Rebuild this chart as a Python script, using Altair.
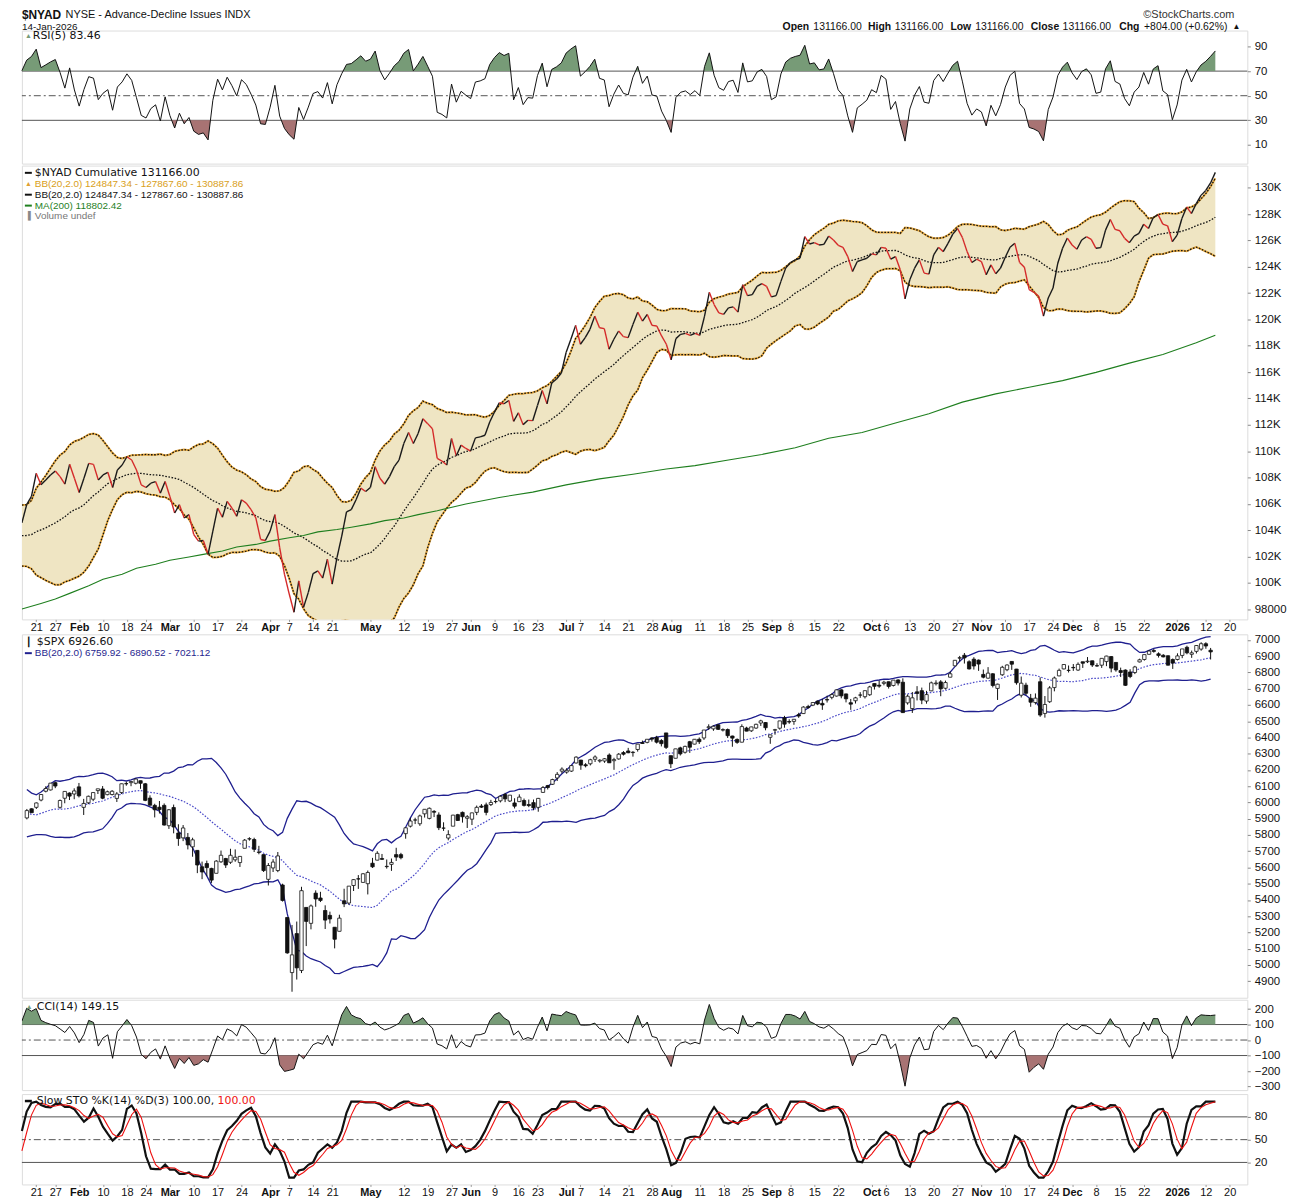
import altair as alt
import numpy as np
import pandas as pd

FONT = "Liberation Sans"
WIDE = "DejaVu Sans"

# ---------------- data ----------------
holidays = ["2025-01-20", "2025-02-17", "2025-04-18", "2025-05-26", "2025-06-19",
            "2025-07-04", "2025-09-01", "2025-11-27", "2025-12-25", "2026-01-01", "2026-01-19"]
all_days = [d for d in pd.bdate_range("2025-01-15", "2026-01-23")
            if d.strftime("%Y-%m-%d") not in holidays]


def day_index(s):
    return all_days.index(pd.Timestamp(s))


# NYAD closes of the 19 sessions before the first plotted day (warm-up for indicators)
nyad_prior = [105800, 105200, 103900, 104600, 104900, 104300, 104700, 103600, 102600, 102900,
              103600, 104000, 103100, 102200, 101900, 102500, 101500, 102300, 103600]

nyad = [104551, 105932, 106560, 108319, 107440, 107816, 108193, 108494, 108067, 107489,
        108998, 107942, 106862, 107942, 109073, 108998, 107816, 108193, 108394, 107239,
        108570, 108947, 109575, 109323, 108570, 107440, 107239, 107565, 107691, 106811,
        107691, 106560, 105305, 105932, 104927, 105179, 103672, 103169, 103219, 102164,
        103923, 105681, 104978, 106184, 105681, 105053, 106309, 106058, 105556, 104927,
        103295, 103219, 103923, 105179, 102667, 100657, 99150, 97768, 100155, 98145,
        99276, 100707, 100908, 100356, 101788, 99904, 101913, 103546, 105380, 105556,
        106309, 107188, 106937, 107239, 108821, 107942, 107489, 108067, 108821, 109323,
        110581, 111408, 110581, 111334, 112464, 112087, 111700, 109450, 109249, 108947,
        110957, 109651, 110454, 110203, 110002, 111007, 111082, 111208, 112213, 112966,
        113670, 113594, 113846, 112263, 112916, 112012, 112338, 112313, 113469, 114599,
        113594, 115177, 115478, 115931, 117488, 118493, 119548, 118116, 118618, 119246,
        120251, 119372, 119297, 117739, 118493, 119121, 118694, 118618, 119623, 120553,
        119874, 120377, 119548, 119498, 118744, 118116, 116935, 118543, 118870, 118945,
        118794, 118945, 118794, 120251, 122060, 121130, 120502, 120377, 120879, 120954,
        120553, 122638, 121809, 121884, 122512, 122713, 122512, 121708, 121809, 122889,
        123894, 124321, 124522, 124647, 126280, 125727, 125828, 125652, 125700, 126330,
        126028, 125626, 125475, 124772, 123642, 124396, 124521, 124647, 124973, 124898,
        125475, 125400, 124571, 124772, 123767, 121557, 123014, 123893, 124521, 123516,
        123441, 124898, 125475, 125149, 125777, 126480, 126907, 126229, 125149, 124320,
        124571, 124396, 123391, 124144, 123466, 123893, 124722, 125475, 125777, 124320,
        123968, 122260, 122059, 121758, 120251, 121632, 122386, 124270, 125400, 126179,
        125651, 125325, 126028, 126280, 126079, 125400, 125450, 126782, 127586, 126832,
        126732, 126154, 125827, 126330, 126531, 127234, 126907, 127736, 127963, 127234,
        127108, 125903, 126405, 127661, 128540, 128038, 128791, 129419, 129796, 130362,
        131166]

ma200_day = [0, 4, 7, 10, 14, 17, 21, 24, 28, 31, 35, 38, 42, 45, 49, 52, 56, 59, 62, 66,
             69, 73, 76, 80, 83, 87, 93, 100, 107, 114, 121, 128, 135, 141, 148, 155, 162,
             169, 176, 183, 190, 197, 204, 211, 218, 225, 232, 239, 246, 250]
ma200_value = [98019, 98436, 98773, 99200, 99778, 100281, 100657, 101110, 101411, 101712,
               101964, 102164, 102416, 102717, 102918, 103169, 103420, 103596, 103872, 104048,
               104224, 104475, 104726, 104927, 105179, 105480, 105983, 106486, 106887, 107440,
               107892, 108244, 108646, 108897, 109324, 109751, 110253, 110980, 111408, 112137,
               112840, 113720, 114348, 114850, 115353, 115981, 116684, 117337, 118230, 118802]

spx_prior_close = [6074, 6051, 5872, 5867, 5931, 5974, 6040, 6037, 5971, 5907,
                   5882, 5869, 5942, 5975, 5909, 5918, 5827, 5836, 5843]

spx_open = [5905, 5961, 5970, 6015, 6069, 6077, 6122, 5970, 6026, 6058, 6052, 6096, 5970, 5998, 6020,
            6073, 6083, 6048, 6049, 6025, 6061, 6116, 6122, 6118, 6134, 6115, 6027, 5982, 5971, 5982,
            5857, 5969, 5812, 5782, 5785, 5727, 5705, 5604, 5624, 5594, 5564, 5635, 5655, 5632, 5647,
            5630, 5718, 5775, 5772, 5695, 5679, 5527, 5597, 5581, 5492, 5292, 4953, 5193, 4966, 5354,
            5256, 5442, 5412, 5335, 5305, 5232, 5207, 5395, 5381, 5489, 5530, 5508, 5500, 5626, 5645,
            5655, 5605, 5619, 5679, 5679, 5808, 5854, 5892, 5869, 5930, 5902, 5945, 5923, 5842, 5781,
            5854, 5925, 5939, 5903, 5897, 5939, 5978, 5985, 5987, 6005, 6010, 6049, 6009, 5997, 6005,
            6012, 5987, 5999, 5970, 6062, 6104, 6112, 6151, 6193, 6187, 6193, 6243, 6261, 6232, 6238,
            6266, 6255, 6255, 6292, 6257, 6268, 6307, 6317, 6307, 6326, 6368, 6370, 6397, 6401, 6381,
            6428, 6288, 6272, 6336, 6309, 6374, 6359, 6389, 6397, 6460, 6453, 6478, 6445, 6449, 6409,
            6388, 6371, 6458, 6441, 6458, 6489, 6492, 6401, 6445, 6457, 6521, 6498, 6499, 6540, 6547,
            6590, 6599, 6624, 6610, 6633, 6647, 6655, 6693, 6668, 6614, 6626, 6661, 6651, 6663, 6732,
            6722, 6733, 6743, 6720, 6754, 6740, 6613, 6578, 6681, 6688, 6624, 6687, 6731, 6742, 6703,
            6771, 6841, 6888, 6906, 6866, 6882, 6876, 6788, 6765, 6792, 6702, 6786, 6817, 6868, 6821,
            6660, 6722, 6641, 6615, 6743, 6548, 6620, 6707, 6779, 6822, 6813, 6831, 6815, 6866, 6866,
            6872, 6842, 6845, 6867, 6898, 6862, 6812, 6815, 6803, 6800, 6865, 6880, 6912, 6935, 6915,
            6906, 6903, 6880, 6880, 6905, 6955, 6912, 6930, 6944, 6977, 6937]
spx_high = [5960, 5964, 6000, 6051, 6100, 6118, 6128, 6018, 6069, 6062, 6087, 6120, 6022, 6042, 6062,
            6084, 6101, 6073, 6076, 6064, 6116, 6128, 6130, 6147, 6134, 6120, 6044, 5992, 6009, 5994,
            5959, 5987, 5866, 5861, 5812, 5783, 5706, 5636, 5642, 5598, 5645, 5704, 5659, 5715, 5711,
            5670, 5775, 5786, 5783, 5733, 5680, 5627, 5651, 5695, 5500, 5292, 5246, 5267, 5481, 5354,
            5372, 5459, 5450, 5367, 5328, 5232, 5309, 5469, 5485, 5528, 5553, 5565, 5581, 5659, 5700,
            5683, 5649, 5655, 5721, 5690, 5845, 5906, 5906, 5925, 5959, 5969, 5953, 5939, 5878, 5829,
            5924, 5930, 5944, 5922, 5937, 5981, 5990, 5999, 6016, 6021, 6043, 6059, 6045, 6026, 6050,
            6024, 6018, 6018, 6028, 6101, 6108, 6146, 6187, 6216, 6211, 6227, 6284, 6262, 6242, 6269,
            6290, 6266, 6273, 6302, 6275, 6304, 6316, 6336, 6316, 6360, 6381, 6390, 6401, 6410, 6390,
            6428, 6288, 6330, 6343, 6350, 6379, 6390, 6400, 6446, 6481, 6474, 6481, 6456, 6455, 6411,
            6394, 6481, 6466, 6466, 6485, 6509, 6495, 6417, 6453, 6502, 6533, 6512, 6513, 6552, 6592,
            6601, 6616, 6627, 6638, 6657, 6672, 6694, 6697, 6670, 6637, 6650, 6679, 6689, 6718, 6733,
            6750, 6749, 6744, 6753, 6758, 6764, 6665, 6680, 6716, 6707, 6687, 6744, 6752, 6753, 6750,
            6807, 6877, 6902, 6920, 6875, 6894, 6880, 6818, 6833, 6796, 6731, 6841, 6850, 6869, 6822,
            6775, 6737, 6668, 6671, 6770, 6655, 6716, 6775, 6824, 6850, 6843, 6852, 6862, 6866, 6895,
            6873, 6857, 6888, 6903, 6901, 6863, 6830, 6819, 6820, 6841, 6885, 6910, 6937, 6945, 6924,
            6913, 6905, 6886, 6918, 6945, 6965, 6935, 6968, 6986, 6986, 6951]
spx_low = [5896, 5938, 5960, 6007, 6062, 6074, 6088, 5962, 5995, 6015, 6020, 6031, 5923, 5990, 6008,
           6052, 6020, 6044, 6043, 6003, 6052, 6103, 6100, 6111, 6084, 6008, 5982, 5908, 5932, 5858,
           5837, 5810, 5733, 5762, 5711, 5666, 5565, 5528, 5546, 5505, 5564, 5628, 5597, 5622, 5635,
           5603, 5718, 5765, 5695, 5681, 5572, 5489, 5572, 5571, 5390, 5069, 4835, 4910, 4950, 5116,
           5219, 5358, 5387, 5221, 5255, 5102, 5207, 5356, 5371, 5455, 5468, 5507, 5434, 5597, 5644,
           5646, 5593, 5579, 5640, 5650, 5777, 5846, 5867, 5856, 5907, 5896, 5910, 5830, 5825, 5767,
           5854, 5886, 5876, 5843, 5861, 5922, 5966, 5921, 5978, 5994, 6000, 6002, 6003, 5963, 6005,
           5975, 5971, 5952, 5943, 6059, 6080, 6108, 6132, 6179, 6177, 6188, 6240, 6201, 6216, 6228,
           6249, 6245, 6244, 6244, 6201, 6263, 6289, 6303, 6282, 6313, 6361, 6364, 6375, 6363, 6345,
           6329, 6212, 6272, 6289, 6301, 6305, 6358, 6360, 6385, 6447, 6441, 6446, 6437, 6397, 6343,
           6361, 6370, 6438, 6434, 6453, 6471, 6444, 6361, 6417, 6448, 6460, 6484, 6478, 6521, 6545,
           6578, 6593, 6599, 6570, 6615, 6635, 6652, 6641, 6616, 6570, 6609, 6644, 6640, 6656, 6695,
           6706, 6721, 6701, 6714, 6720, 6551, 6602, 6551, 6628, 6605, 6608, 6685, 6720, 6654, 6695,
           6770, 6841, 6868, 6855, 6818, 6818, 6810, 6764, 6762, 6708, 6631, 6779, 6808, 6816, 6725,
           6646, 6660, 6589, 6603, 6527, 6522, 6613, 6684, 6777, 6819, 6800, 6810, 6810, 6828, 6858,
           6834, 6835, 6828, 6839, 6801, 6805, 6772, 6717, 6765, 6790, 6862, 6873, 6909, 6922, 6892,
           6893, 6843, 6822, 6874, 6888, 6912, 6890, 6917, 6934, 6946, 6880]
spx_close = [5950, 5937, 5997, 6049, 6086, 6119, 6101, 6012, 6068, 6039, 6071, 6041, 5994, 6038, 6061,
             6084, 6026, 6066, 6069, 6052, 6115, 6115, 6129, 6144, 6118, 6013, 5983, 5955, 5956, 5861,
             5955, 5849, 5778, 5843, 5739, 5770, 5615, 5572, 5599, 5522, 5639, 5675, 5615, 5675, 5663,
             5668, 5768, 5777, 5712, 5693, 5581, 5612, 5633, 5671, 5397, 5074, 5062, 4982, 5457, 5268,
             5363, 5406, 5397, 5276, 5283, 5158, 5288, 5376, 5485, 5525, 5529, 5561, 5569, 5604, 5687,
             5650, 5607, 5631, 5664, 5660, 5844, 5886, 5892, 5917, 5958, 5964, 5940, 5845, 5842, 5802,
             5922, 5889, 5912, 5912, 5936, 5970, 5971, 5939, 6000, 6006, 6038, 6022, 6045, 5977, 6033,
             5982, 5981, 5967, 6025, 6092, 6092, 6141, 6173, 6205, 6198, 6227, 6279, 6230, 6226, 6263,
             6280, 6260, 6269, 6244, 6264, 6297, 6297, 6306, 6309, 6359, 6363, 6389, 6390, 6371, 6362,
             6339, 6238, 6330, 6299, 6345, 6340, 6389, 6374, 6446, 6466, 6469, 6450, 6449, 6411, 6396,
             6370, 6467, 6439, 6465, 6481, 6502, 6460, 6416, 6448, 6502, 6482, 6495, 6512, 6532, 6587,
             6584, 6615, 6606, 6600, 6631, 6664, 6693, 6656, 6638, 6605, 6644, 6661, 6688, 6711, 6715,
             6716, 6740, 6714, 6753, 6735, 6553, 6654, 6644, 6671, 6630, 6664, 6736, 6735, 6699, 6738,
             6792, 6875, 6891, 6890, 6822, 6840, 6852, 6771, 6796, 6720, 6728, 6832, 6846, 6851, 6737,
             6734, 6672, 6617, 6642, 6538, 6603, 6705, 6766, 6813, 6849, 6813, 6829, 6850, 6857, 6870,
             6846, 6840, 6887, 6901, 6827, 6816, 6800, 6721, 6775, 6834, 6878, 6910, 6932, 6930, 6905,
             6896, 6845, 6858, 6902, 6945, 6921, 6921, 6966, 6977, 6963, 6926.6]

label_dates = ["2025-01-21", "2025-01-27", "2025-02-03", "2025-02-10", "2025-02-18", "2025-02-24",
               "2025-03-03", "2025-03-10", "2025-03-17", "2025-03-24", "2025-04-01", "2025-04-07",
               "2025-04-14", "2025-04-21", "2025-05-01", "2025-05-12", "2025-05-19", "2025-05-27",
               "2025-06-02", "2025-06-09", "2025-06-16", "2025-06-23", "2025-07-01", "2025-07-07",
               "2025-07-14", "2025-07-21", "2025-07-28", "2025-08-01", "2025-08-11", "2025-08-18",
               "2025-08-25", "2025-09-02", "2025-09-08", "2025-09-15", "2025-09-22", "2025-10-01",
               "2025-10-06", "2025-10-13", "2025-10-20", "2025-10-27", "2025-11-03", "2025-11-10",
               "2025-11-17", "2025-11-24", "2025-12-01", "2025-12-08", "2025-12-15", "2025-12-22",
               "2026-01-02", "2026-01-12", "2026-01-20"]
label_text = ["21", "27", "Feb", "10", "18", "24", "Mar", "10", "17", "24", "Apr", "7", "14", "21",
              "May", "12", "19", "27", "Jun", "9", "16", "23", "Jul", "7", "14", "21", "28", "Aug",
              "11", "18", "25", "Sep", "8", "15", "22", "Oct", "6", "13", "20", "27", "Nov", "10",
              "17", "24", "Dec", "8", "15", "22", "2026", "12", "20"]
bold_labels = ["Feb", "Mar", "Apr", "May", "Jun", "Jul", "Aug", "Sep", "Oct", "Nov", "Dec", "2026"]

# ---------------- indicators ----------------
P = len(nyad_prior)
N = len(nyad)
s = pd.Series(np.array(nyad_prior + nyad, dtype=float))
mid = s.rolling(20).mean()
sd = s.rolling(20).std(ddof=0)
d = s.diff().fillna(0)
ag = d.clip(lower=0).ewm(alpha=1 / 5, adjust=False).mean()
al = (-d.clip(upper=0)).ewm(alpha=1 / 5, adjust=False).mean()
rsi = 100 - 100 / (1 + ag / al)
sma14 = s.rolling(14).mean()
mdev = s.rolling(14).apply(lambda x: np.mean(np.abs(x - x.mean())), raw=True)
cci = (s - sma14) / (0.015 * mdev)
hh = s.rolling(14).max()
ll = s.rolling(14).min()
fk = 100 * (s - ll) / (hh - ll)
sk = fk.rolling(3).mean()
sdd = sk.rolling(3).mean()

c = pd.Series(np.array(spx_prior_close + spx_close, dtype=float))
cmid = c.rolling(20).mean()
csd = c.rolling(20).std(ddof=0)

idx = np.arange(N)
base = pd.DataFrame({
    "i": idx, "v": nyad,
    "up": (mid + 2 * sd).values[P:], "mid": mid.values[P:], "lo": (mid - 2 * sd).values[P:],
    "rsi": rsi.values[P:], "cci": cci.values[P:], "k": sk.values[P:], "d": sdd.values[P:],
    "o": spx_open, "h": spx_high, "l": spx_low, "c": spx_close,
    "cup": (cmid + 2 * csd).values[P:len(c)], "cmid": cmid.values[P:len(c)],
    "clo": (cmid - 2 * csd).values[P:len(c)],
})
base["bull"] = (base["c"] >= base["o"]).astype(int)

seg = pd.DataFrame({"i0": idx[:-1], "i1": idx[1:], "v0": nyad[:-1], "v1": nyad[1:]})
seg["up"] = (seg["v1"] >= seg["v0"]).astype(int)

ma = pd.DataFrame({"i": ma200_day, "v": ma200_value})


def clip_fill(vals, thr, above=True):
    rows = []
    for k in range(len(vals)):
        v = vals[k]
        if k > 0:
            p = vals[k - 1]
            if (p - thr) * (v - thr) < 0:
                t = (thr - p) / (v - p)
                rows.append((k - 1 + t, thr))
        rows.append((k, max(v, thr) if above else min(v, thr)))
    out = pd.DataFrame(rows, columns=["i", "v"])
    out["b"] = thr
    return out


# ---------------- helpers ----------------
W = 1234
XDOM = [0, 256.7]
lab_idx = [day_index(x) for x in label_dates]
bold_idx = [lab_idx[k] for k, t in enumerate(label_text) if t in bold_labels]
label_expr = ("[" + ",".join("'%s'" % t for t in label_text) + "][indexof(["
              + ",".join(str(v) for v in lab_idx) + "], datum.value)]")
xaxis = alt.Axis(values=lab_idx, labelExpr=label_expr,
                 labelFontWeight={"condition": {"test": "indexof([%s], datum.value) >= 0"
                                                % ",".join(str(v) for v in bold_idx),
                                                "value": "bold"}, "value": "normal"},
                 labelOverlap=False, labelFlush=False, grid=False, domain=False,
                 tickSize=2, tickColor="#999", labelPadding=0, labelFontSize=11,
                 labelColor="#111", labelFont=FONT, title="")


def X(field="i:Q", axis=False):
    if axis:
        return alt.X(field, scale=alt.Scale(domain=XDOM, nice=False, zero=False), axis=xaxis)
    return alt.X(field, scale=alt.Scale(domain=XDOM, nice=False, zero=False), axis=None)


def yaxis(values, expr="format(datum.value, 'd')"):
    return alt.Axis(orient="right", values=values, grid=False, domain=False, tickSize=3,
                    tickColor="#888", labelPadding=4, labelFontSize=11.5, labelColor="#111",
                    labelFont=FONT, title="", labelOverlap=False, labelExpr=expr)


def txt(t, x, y, size=11, weight="normal", color="#111", align="left", font=FONT):
    return alt.Chart(pd.DataFrame({"t": [t]})).mark_text(
        align=align, baseline="middle", fontSize=size, fontWeight=weight, color=color, font=font
    ).encode(x=alt.value(x), y=alt.value(y), text="t:N")


def key(x1, x2, y, color, width=2):
    return alt.Chart(pd.DataFrame({"a": [0]})).mark_rule(color=color, strokeWidth=width).encode(
        x=alt.value(x1), x2=alt.value(x2), y=alt.value(y))


DASHDOT = [7, 3, 2, 3]
GREEN_FILL = "#779b77"
RED_FILL = "#a87373"
HY1 = -15.5
HY2 = -4

# ---------------- RSI panel ----------------
rs = alt.Scale(domain=[-5.2, 103.0], nice=False, zero=False)
ra = yaxis([10, 30, 50, 70, 90])


def Yr(f):
    return alt.Y(f, scale=rs, axis=ra)


rsi_panel = alt.layer(
    alt.Chart(pd.DataFrame({"y": [30, 70]})).mark_rule(color="#555", strokeWidth=1).encode(y=Yr("y:Q")),
    alt.Chart(pd.DataFrame({"y": [50]})).mark_rule(color="#555", strokeWidth=1, strokeDash=DASHDOT).encode(y=Yr("y:Q")),
    alt.Chart(clip_fill(list(base["rsi"]), 70, True)).mark_area(color=GREEN_FILL).encode(x=X(), y=Yr("v:Q"), y2="b:Q"),
    alt.Chart(clip_fill(list(base["rsi"]), 30, False)).mark_area(color=RED_FILL).encode(x=X(), y=Yr("v:Q"), y2="b:Q"),
    alt.Chart(base).mark_line(color="#111", strokeWidth=1).encode(x=X(), y=Yr("rsi:Q")),
    txt("\u25b2", 3, 6, size=7, color=GREEN_FILL),
    txt("RSI(5) 83.46", 11, 6, size=11, font=WIDE),
    txt("$NYAD", 0, HY1, size=12, weight="bold"),
    txt("NYSE - Advance-Decline Issues INDX", 44, HY1, size=11),
    txt("14-Jan-2026", 0, HY2, size=10),
    txt("\u00a9StockCharts.com", 1221, HY1, size=11, align="right", color="#333"),
    txt("Open", 766, HY2, size=10.5, weight="bold"),
    txt("131166.00", 797, HY2, size=10.5),
    txt("High", 852, HY2, size=10.5, weight="bold"),
    txt("131166.00", 879, HY2, size=10.5),
    txt("Low", 935, HY2, size=10.5, weight="bold"),
    txt("131166.00", 960, HY2, size=10.5),
    txt("Close", 1016, HY2, size=10.5, weight="bold"),
    txt("131166.00", 1048, HY2, size=10.5),
    txt("Chg", 1105, HY2, size=10.5, weight="bold"),
    txt("+804.00 (+0.62%)", 1130, HY2, size=10.5),
    txt("\u25b2", 1219, HY2, size=8),
).properties(width=W, height=134)

# ---------------- NYAD panel ----------------
ns = alt.Scale(domain=[97224, 131680], nice=False, zero=False)
na = yaxis(list(range(98000, 130001, 2000)),
           "datum.value >= 100000 ? format(datum.value / 1000, 'd') + 'K' : format(datum.value, 'd')")


def Yn(f):
    return alt.Y(f, scale=ns, axis=na)


def band_line(field):
    return [
        alt.Chart(base).mark_line(color="#e7a83c", strokeWidth=2, clip=True).encode(x=X(axis=True), y=Yn(field)),
        alt.Chart(base).mark_line(color="#111", strokeWidth=1.3, strokeDash=[1.6, 1.6], clip=True).encode(x=X(axis=True), y=Yn(field)),
    ]


nyad_panel = alt.layer(
    alt.Chart(base).mark_area(color="#efe5c3", clip=True).encode(x=X(axis=True), y=Yn("up:Q"), y2="lo:Q"),
    *band_line("up:Q"),
    *band_line("lo:Q"),
    alt.Chart(base).mark_line(color="#111", strokeWidth=1.3, strokeDash=[1.6, 1.6], clip=True).encode(x=X(axis=True), y=Yn("mid:Q")),
    alt.Chart(ma).mark_line(color="#1f7f1f", strokeWidth=1.1, clip=True).encode(x=X(axis=True), y=Yn("v:Q")),
    alt.Chart(seg).mark_rule(strokeWidth=1.4, clip=True).encode(
        x=X("i0:Q", axis=True), x2="i1:Q", y=Yn("v0:Q"), y2="v1:Q",
        color=alt.condition("datum.up == 1", alt.value("#1a1a1a"), alt.value("#d42a2a"))),
    key(3, 10, 7.3, "#111"),
    txt("$NYAD Cumulative 131166.00", 13, 7.3, size=11, font=WIDE),
    txt("\u25b2", 3, 18.3, size=7, color="#e0a030"),
    txt("BB(20,2.0) 124847.34 - 127867.60 - 130887.86", 13, 18.3, size=10, color="#d9a020"),
    key(3, 10, 29.3, "#111"),
    txt("BB(20,2.0) 124847.34 - 127867.60 - 130887.86", 13, 29.3, size=10),
    key(3, 10, 40.3, "#1f7f1f"),
    txt("MA(200) 118802.42", 13, 40.3, size=10, color="#1f7f1f"),
    txt("\u2590", 3, 50.3, size=8, color="#888"),
    txt("Volume undef", 13, 50.3, size=10, color="#777"),
).properties(width=W, height=457)

# ---------------- SPX panel ----------------
ss = alt.Scale(domain=[4798, 7035], nice=False, zero=False)
sa = yaxis(list(range(4900, 7001, 100)))


def Ys(f):
    return alt.Y(f, scale=ss, axis=sa)


NAVY = "#1f1f8f"
spx_panel = alt.layer(
    alt.Chart(base).mark_line(color=NAVY, strokeWidth=1.3, clip=True).encode(x=X(), y=Ys("cup:Q")),
    alt.Chart(base).mark_line(color=NAVY, strokeWidth=1.3, clip=True).encode(x=X(), y=Ys("clo:Q")),
    alt.Chart(base).mark_line(color="#4a4ac8", strokeWidth=1.2, strokeDash=[1.6, 1.6], clip=True).encode(x=X(), y=Ys("cmid:Q")),
    alt.Chart(base).mark_rule(color="#111", strokeWidth=1).encode(x=X(), y=Ys("l:Q"), y2="h:Q"),
    alt.Chart(base).mark_bar(size=3.4, stroke="#111", strokeWidth=0.8).encode(
        x=X(), y=Ys("o:Q"), y2="c:Q",
        fill=alt.condition("datum.bull == 1", alt.value("white"), alt.value("#111"))),
    txt("\u2503", 4, 8, size=9),
    txt("$SPX 6926.60", 15, 8, size=11, font=WIDE),
    key(3, 10, 19, NAVY),
    txt("BB(20,2.0) 6759.92 - 6890.52 - 7021.12", 13, 19, size=10, color=NAVY),
).properties(width=W, height=366)

# ---------------- CCI panel ----------------
cs = alt.Scale(domain=[-323, 260], nice=False, zero=False)
ca = yaxis([-300, -200, -100, 0, 100, 200])


def Yc(f):
    return alt.Y(f, scale=cs, axis=ca)


cci_panel = alt.layer(
    alt.Chart(pd.DataFrame({"y": [-100, 100]})).mark_rule(color="#555", strokeWidth=1).encode(y=Yc("y:Q")),
    alt.Chart(pd.DataFrame({"y": [0]})).mark_rule(color="#555", strokeWidth=1, strokeDash=DASHDOT).encode(y=Yc("y:Q")),
    alt.Chart(clip_fill(list(base["cci"]), 100, True)).mark_area(color=GREEN_FILL, clip=True).encode(x=X(), y=Yc("v:Q"), y2="b:Q"),
    alt.Chart(clip_fill(list(base["cci"]), -100, False)).mark_area(color=RED_FILL, clip=True).encode(x=X(), y=Yc("v:Q"), y2="b:Q"),
    alt.Chart(base).mark_line(color="#111", strokeWidth=1, clip=True).encode(x=X(), y=Yc("cci:Q")),
    txt("\u25b2", 4, 7, size=7, color=GREEN_FILL),
    txt("CCI(14) 149.15", 15, 7, size=11, font=WIDE),
).properties(width=W, height=91)

# ---------------- Slow STO panel ----------------
ts = alt.Scale(domain=[-9, 110], nice=False, zero=False)
ta = yaxis([20, 50, 80])


def Yt(f):
    return alt.Y(f, scale=ts, axis=ta)


sto_panel = alt.layer(
    alt.Chart(pd.DataFrame({"y": [20, 80]})).mark_rule(color="#555", strokeWidth=1).encode(y=Yt("y:Q")),
    alt.Chart(pd.DataFrame({"y": [50]})).mark_rule(color="#555", strokeWidth=1, strokeDash=DASHDOT).encode(y=Yt("y:Q")),
    alt.Chart(base).mark_line(color="#111", strokeWidth=2.2).encode(x=X(axis=True), y=Yt("k:Q")),
    alt.Chart(base).mark_line(color="#ee1111", strokeWidth=1.1).encode(x=X(axis=True), y=Yt("d:Q")),
    key(3, 10, 7, "#111", width=2.5),
    txt("Slow STO %K(14) %D(3) 100.00,", 15, 7, size=11, font=WIDE),
    txt("100.00", 197, 7, size=11, font=WIDE, color="#ee1111"),
).properties(width=W, height=91)

chart = alt.vconcat(rsi_panel, nyad_panel, spx_panel, cci_panel, sto_panel, spacing=0).properties(
    padding={"left": 9, "top": -3.5, "right": 5, "bottom": 2},
    background="white",
).configure_view(stroke="#9a9a9a", strokeWidth=1).configure(font=FONT)

chart.save("out.html", embed_options={"renderer": "svg", "actions": False})
